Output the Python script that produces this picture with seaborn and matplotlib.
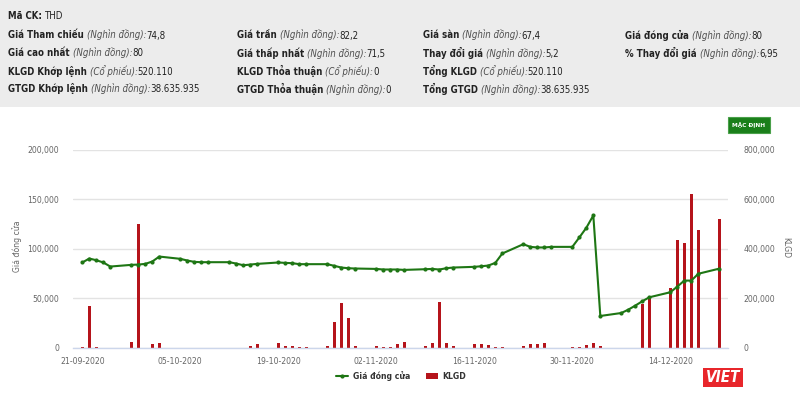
import matplotlib
matplotlib.use("Agg")
import numpy as np
import pandas as pd
import matplotlib.pyplot as plt
import seaborn as sns
from matplotlib import font_manager as fm
from matplotlib.offsetbox import TextArea, HPacker, AnnotationBbox
from matplotlib.patches import Rectangle, Patch
from matplotlib.lines import Line2D
from matplotlib.ticker import FixedLocator, FuncFormatter

# ---------------- data ----------------
dates = [
    "21-09-2020", "22-09-2020", "23-09-2020", "24-09-2020", "25-09-2020",
    "28-09-2020", "29-09-2020", "30-09-2020", "01-10-2020", "02-10-2020",
    "05-10-2020", "06-10-2020", "07-10-2020", "08-10-2020", "09-10-2020",
    "12-10-2020", "13-10-2020", "14-10-2020", "15-10-2020", "16-10-2020",
    "19-10-2020", "20-10-2020", "21-10-2020", "22-10-2020", "23-10-2020",
    "26-10-2020", "27-10-2020", "28-10-2020", "29-10-2020", "30-10-2020",
    "02-11-2020", "03-11-2020", "04-11-2020", "05-11-2020", "06-11-2020",
    "09-11-2020", "10-11-2020", "11-11-2020", "12-11-2020", "13-11-2020",
    "16-11-2020", "17-11-2020", "18-11-2020", "19-11-2020", "20-11-2020",
    "23-11-2020", "24-11-2020", "25-11-2020", "26-11-2020", "27-11-2020",
    "30-11-2020", "01-12-2020", "02-12-2020", "03-12-2020", "04-12-2020",
    "07-12-2020", "08-12-2020", "09-12-2020", "10-12-2020", "11-12-2020",
    "14-12-2020", "15-12-2020", "16-12-2020", "17-12-2020", "18-12-2020",
    "21-12-2020",
]
close_price = [
    86200, 90200, 88500, 86200, 82100,
    83800, 84100, 84800, 87200, 92200,
    89900, 88200, 86800, 86500, 86500,
    86500, 85100, 83400, 84100, 84800,
    86200, 85800, 85500, 84500, 84500,
    84500, 82800, 81100, 80400, 80100,
    79700, 79100, 79100, 79100, 78700,
    79400, 79700, 79100, 80400, 81100,
    81800, 82400, 83100, 85800, 95300,
    104700, 102000, 101400, 101400, 102000,
    102000, 111500, 121300, 133800, 32100,
    35100, 38500, 42600, 47000, 51000,
    56100, 61800, 67900, 67900, 74800,
    80000,
]
volume = [
    3000, 170000, 3000, 0, 0,
    24300, 501000, 0, 14900, 17600,
    0, 0, 0, 0, 0,
    0, 0, 0, 6800, 16500,
    21000, 6800, 6800, 4000, 2700,
    6800, 104000, 180500, 121500, 8100,
    6800, 2700, 2700, 13500, 24300,
    6800, 17600, 183600, 17600, 6800,
    14200, 14200, 10000, 2700, 2700,
    8500, 15500, 14900, 17000, 0,
    2700, 3500, 9000, 21000, 6500,
    0, 0, 0, 177000, 204000,
    240500, 435500, 425500, 622500, 476500,
    519500,
]
tick_labels = ["21-09-2020", "05-10-2020", "19-10-2020", "02-11-2020",
               "16-11-2020", "30-11-2020", "14-12-2020"]
price_ticks = [0, 50000, 100000, 150000, 200000]
volume_ticks = [0, 200000, 400000, 600000, 800000]

header_rows = [
    # (column x px, row y px, bold label, italic unit, value)
    (8, 16, "Mã CK: ", "", "THD"),
    (8, 35, "Giá Tham chiếu ", "(Nghìn đồng):", "74,8"),
    (8, 53, "Giá cao nhất ", "(Nghìn đồng):", "80"),
    (8, 71, "KLGD Khớp lệnh ", "(Cổ phiếu):", "520.110"),
    (8, 89, "GTGD Khớp lệnh ", "(Nghìn đồng):", "38.635.935"),
    (237, 35, "Giá trần ", "(Nghìn đồng):", "82,2"),
    (237, 53, "Giá thấp nhất ", "(Nghìn đồng):", "71,5"),
    (237, 71, "KLGD Thỏa thuận ", "(Cổ phiếu):", "0"),
    (237, 89, "GTGD Thỏa thuận ", "(Nghìn đồng):", "0"),
    (423, 35, "Giá sàn ", "(Nghìn đồng):", "67,4"),
    (423, 53, "Thay đổi giá ", "(Nghìn đồng):", "5,2"),
    (423, 71, "Tổng KLGD ", "(Cổ phiếu):", "520.110"),
    (423, 89, "Tổng GTGD ", "(Nghìn đồng):", "38.635.935"),
    (625, 35, "Giá đóng cửa ", "(Nghìn đồng):", "80"),
    (625, 53, "% Thay đổi giá ", "(Nghìn đồng):", "6,95"),
]

# ---------------- style ----------------
sns.set_theme(style="white")
names = {f.name for f in fm.fontManager.ttflist}
if "Liberation Sans Narrow" in names:
    FAM = ["Liberation Sans Narrow", "DejaVu Sans"]
    STRETCH = "normal"
    SCALE = 1.0
else:
    FAM = ["DejaVu Sans"]
    STRETCH = "condensed"
    SCALE = 0.85
plt.rcParams["font.family"] = FAM
plt.rcParams["font.stretch"] = STRETCH

GREEN = "#1e7614"
RED = "#b5141b"
GRID = "#e3e3e3"
AXIS = "#ccd6eb"
LABEL = "#666666"

W, H = 800, 398
fig = plt.figure(figsize=(8.0, 3.98), dpi=100, facecolor="white")

def fx(px):
    return px / W

def fy(py):
    return 1 - py / H

# header background
fig.add_artist(Rectangle((0, fy(107)), 1, 1 - fy(107), transform=fig.transFigure,
                         facecolor="#ececec", edgecolor="none", zorder=0))

hs = 8.2 * SCALE
for (cx, ry, lab, unit, val) in header_rows:
    kids = [TextArea(lab, textprops=dict(fontsize=hs, fontweight="bold", color="#222222",
                                         family=FAM, fontstretch=STRETCH))]
    if unit:
        kids.append(TextArea(unit, textprops=dict(fontsize=hs, fontstyle="italic", color="#4d4d4d",
                                                  family=FAM, fontstretch=STRETCH)))
    kids.append(TextArea(val, textprops=dict(fontsize=hs, color="#222222",
                                             family=FAM, fontstretch=STRETCH)))
    pack = HPacker(children=kids, align="baseline", pad=0, sep=0)
    ab = AnnotationBbox(pack, (fx(cx), fy(ry)), xycoords="figure fraction",
                        box_alignment=(0, 0.5), frameon=False, pad=0)
    fig.add_artist(ab)

# ---------------- chart ----------------
left, right, top, bottom = 73, 728, 150, 347.7
ax = fig.add_axes([fx(left), fy(bottom), fx(right - left), (bottom - top) / H])
ax2 = ax.twinx()

dt = pd.to_datetime(dates, format="%d-%m-%Y")
start = dt[0]
df = pd.DataFrame({
    "day": (dt - start).days.astype(float),
    "close": close_price,
    "volume": volume,
})

sns.barplot(data=df, x="day", y="volume", native_scale=True, width=0.45,
            color=RED, saturation=1, errorbar=None, ax=ax2, linewidth=0)
sns.lineplot(data=df, x="day", y="close", ax=ax, color=GREEN, linewidth=1.5,
             marker="o", markersize=3.0, markeredgewidth=0, zorder=5)

ax.set_zorder(ax2.get_zorder() + 1)
ax.patch.set_visible(False)

xmin, xmax = -1.33, 92.24
for a in (ax, ax2):
    a.set_xlim(xmin, xmax)
    for s in a.spines.values():
        s.set_visible(False)
    a.set_xlabel("")
    a.set_ylabel("")

ax.set_ylim(0, 200000)
ax2.set_ylim(0, 800000)
ax.yaxis.set_major_locator(FixedLocator(price_ticks))
ax2.yaxis.set_major_locator(FixedLocator(volume_ticks))
fmt = FuncFormatter(lambda v, p: f"{int(v):,}")
ax.yaxis.set_major_formatter(fmt)
ax2.yaxis.set_major_formatter(fmt)

ax2.set_axisbelow(True)
ax2.grid(axis="y", color=GRID, linewidth=1.0)
ax2.grid(axis="x", visible=False)
ax.grid(False)

tick_days = [(pd.to_datetime(t, format="%d-%m-%Y") - start).days for t in tick_labels]
ax.set_xticks(tick_days)
ax.set_xticklabels(tick_labels)
ax2.tick_params(axis="x", bottom=False, labelbottom=False)

ts = 7.3 * SCALE
ax.tick_params(axis="x", direction="out", length=4, width=1, color=AXIS,
               labelsize=ts, labelcolor=LABEL, pad=3)
ax.tick_params(axis="y", length=0, labelsize=ts, labelcolor=LABEL, pad=10)
ax2.tick_params(axis="y", length=0, labelsize=ts, labelcolor=LABEL, pad=11)

ax2.spines["bottom"].set_visible(True)
ax2.spines["bottom"].set_color(AXIS)
ax2.spines["bottom"].set_linewidth(1.0)

fig.text(fx(17), fy(246), "Giá đóng cửa", rotation=90, ha="center", va="center",
         fontsize=ts, color=LABEL)
fig.text(fx(786), fy(248), "KLGD", rotation=270, ha="center", va="center",
         fontsize=ts, color=LABEL)

# legend
handles = [Line2D([], [], color=GREEN, lw=1.5, marker="o", ms=3.0, mew=0),
           Patch(facecolor=RED, edgecolor="none")]
fig.legend(handles, ["Giá đóng cửa", "KLGD"], loc="center",
           bbox_to_anchor=(fx(401), fy(376)), ncol=2, frameon=False,
           prop=dict(size=7.3 * SCALE, weight="bold", family=FAM, stretch=STRETCH),
           labelcolor="#333333", handlelength=1.4, handletextpad=0.5,
           columnspacing=1.8)

# "MẶC ĐỊNH" button
fig.add_artist(Rectangle((fx(728), fy(133)), fx(42), (133 - 117) / H,
                         transform=fig.transFigure, facecolor="#1a7f1a",
                         edgecolor="#4aa04a", linewidth=0.8, zorder=3))
fig.text(fx(749), fy(125), "MẶC ĐỊNH", ha="center", va="center", fontsize=5.5 * SCALE,
         color="white", fontweight="bold", zorder=4)

# VIET logo
fig.add_artist(Rectangle((fx(703), fy(387)), fx(40), (387 - 368) / H,
                         transform=fig.transFigure, facecolor="#e8262b",
                         edgecolor="none", zorder=3))
fig.text(fx(723), fy(377.5), "VIET", ha="center", va="center", fontsize=11,
         color="white", fontweight="bold", fontstyle="italic",
         family=["DejaVu Sans"], zorder=4)

fig.savefig("out.png", dpi=100, facecolor="white")
